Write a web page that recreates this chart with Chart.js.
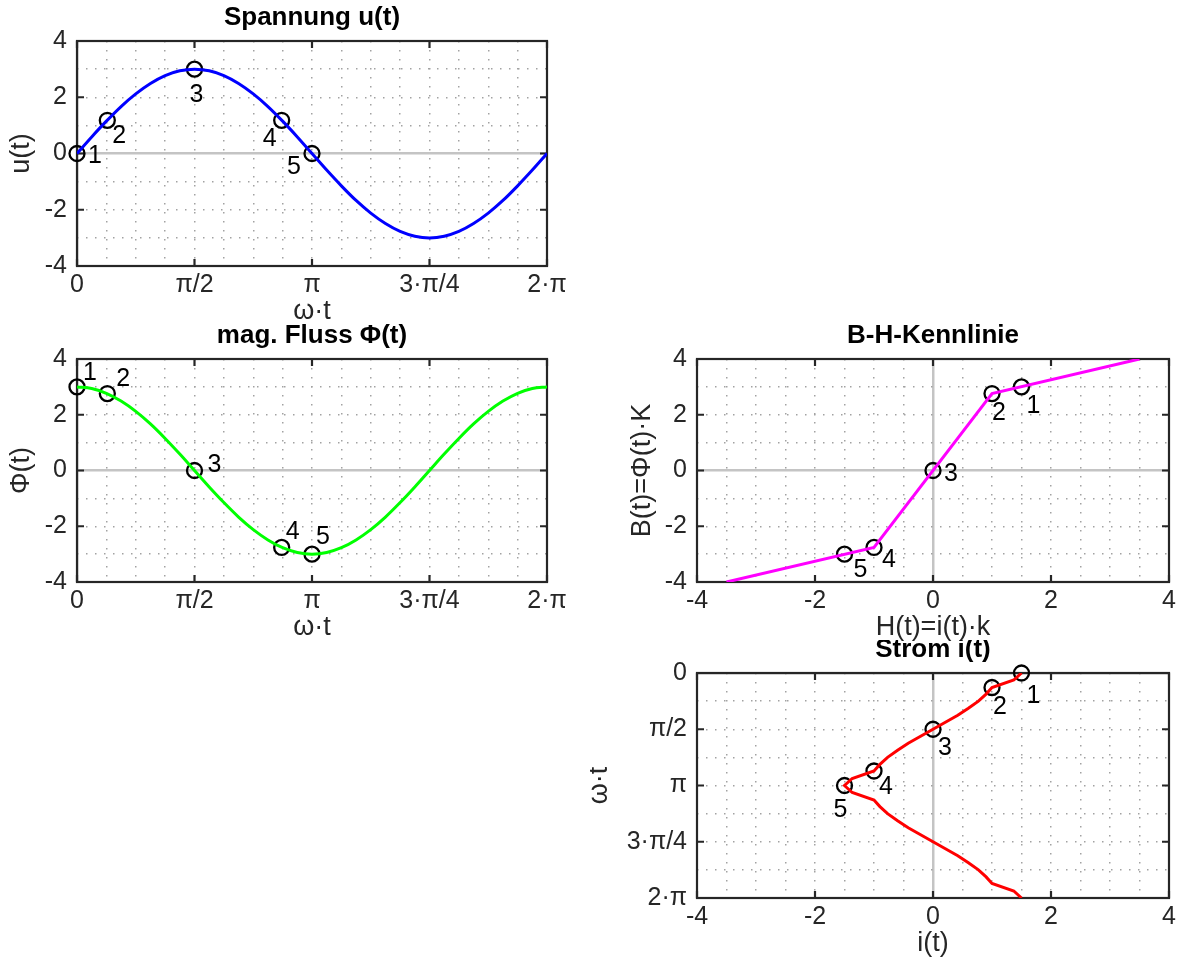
<!DOCTYPE html>
<html>
<head>
<meta charset="utf-8">
<script src="https://cdn.jsdelivr.net/npm/chart.js@4.4.1/dist/chart.umd.min.js"></script>
<style>
  html, body { margin: 0; padding: 0; background: #fff; }
  body { width: 1180px; height: 959px; position: relative; overflow: hidden; }
  canvas { position: absolute; }
</style>
</head>
<body>
<canvas id="uChart"></canvas>
<canvas id="phiChart"></canvas>
<canvas id="bhChart"></canvas>
<canvas id="iChart"></canvas>
<script>
const FONT = '"Liberation Sans", Arial, Helvetica, sans-serif';
const INK = '#262626';

// omega*t in Einheiten von pi
const phase = [0, 0.0625, 0.125, 0.1875, 0.25, 0.3125, 0.375, 0.4375, 0.5, 0.5625, 0.625, 0.6875, 0.75, 0.8125, 0.875, 0.9375,
  1, 1.0625, 1.125, 1.1875, 1.25, 1.3125, 1.375, 1.4375, 1.5, 1.5625, 1.625, 1.6875, 1.75, 1.8125, 1.875, 1.9375, 2];
const voltage = [0, 0.59, 1.15, 1.67, 2.12, 2.49, 2.77, 2.94, 3, 2.94, 2.77, 2.49, 2.12, 1.67, 1.15, 0.59,
  0, -0.59, -1.15, -1.67, -2.12, -2.49, -2.77, -2.94, -3, -2.94, -2.77, -2.49, -2.12, -1.67, -1.15, -0.59, 0];
const flux = [3, 2.94, 2.77, 2.49, 2.12, 1.67, 1.15, 0.59, 0, -0.59, -1.15, -1.67, -2.12, -2.49, -2.77, -2.94,
  -3, -2.94, -2.77, -2.49, -2.12, -1.67, -1.15, -0.59, 0, 0.59, 1.15, 1.67, 2.12, 2.49, 2.77, 2.94, 3];

// B-H-Kennlinie
const bhH = [-3.5, -1, 1, 3.5];
const bhB = [-4, -2.76, 2.76, 4];

// Strom i(t) ueber omega*t
const currentPhase = [0, 0.0625, 0.129, 0.1875, 0.25, 0.3125, 0.375, 0.4375, 0.5, 0.5625, 0.625, 0.6875, 0.75, 0.8125, 0.871, 0.9375,
  1, 1.0625, 1.129, 1.1875, 1.25, 1.3125, 1.375, 1.4375, 1.5, 1.5625, 1.625, 1.6875, 1.75, 1.8125, 1.871, 1.9375, 2];
const current = [1.5, 1.37, 1.0, 0.9, 0.77, 0.6, 0.42, 0.21, 0, -0.21, -0.42, -0.6, -0.77, -0.9, -1.0, -1.37,
  -1.5, -1.37, -1.0, -0.9, -0.77, -0.6, -0.42, -0.21, 0, 0.21, 0.42, 0.6, 0.77, 0.9, 1.0, 1.37, 1.5];

// markierte Punkte 1..5
const pointNames = ['1', '2', '3', '4', '5'];
const pointPhase = [0, 0.129, 0.5, 0.871, 1];
const pointVoltage = [0, 1.18, 3, 1.18, 0];
const pointFlux = [3, 2.76, 0, -2.76, -3];
const pointCurrent = [1.5, 1, 0, -1, -1.5];

// Achsenbeschriftung
const phaseTicks = [0, 0.5, 1, 1.5, 2];
const phaseLabels = ['0', 'π/2', 'π', '3·π/4', '2·π'];
const valueTicks = [-4, -2, 0, 2, 4];
const valueLabels = ['-4', '-2', '0', '2', '4'];

const xy = (xs, ys) => xs.map((x, i) => ({ x: x, y: ys[i] }));
const isZero = c => c.tick && Math.abs(c.tick.value) < 1e-9;

function gridTicks(min, max, step) {
  const out = [];
  for (let v = min; v <= max + 1e-9; v += step) out.push({ value: +v.toFixed(6) });
  return out;
}

function axis(min, max, step, major, labels, size, horizontal, extra) {
  return Object.assign({
    type: 'linear', min: min, max: max,
    afterBuildTicks: s => { s.ticks = gridTicks(min, max, step); },
    afterFit: s => { if (horizontal) s.height = size; else s.width = size; },
    ticks: {
      autoSkip: false, maxRotation: 0, color: INK, padding: horizontal ? 4 : 10,
      font: { family: FONT, size: 25 },
      callback: v => {
        const k = major.findIndex(m => Math.abs(m - v) < 1e-6);
        return k < 0 ? '' : labels[k];
      }
    },
    grid: {
      drawTicks: false,
      color: c => isZero(c) ? '#c4c4c4' : '#a2a2a2',
      lineWidth: c => isZero(c) ? 2.5 : 1.5
    },
    border: { display: false, dash: c => isZero(c) ? [] : [1.5, 7.5] }
  }, extra || {});
}

// Rahmen, Teilstriche, Titel, Achsentitel, Punktnummern
const frame = {
  id: 'frame',
  beforeDatasetsDraw(chart, args, o) {
    const { ctx, chartArea: a, scales } = chart;
    ctx.save();
    ctx.strokeStyle = INK;
    ctx.lineWidth = 2.2;
    ctx.strokeRect(a.left, a.top, a.right - a.left, a.bottom - a.top);
    const len = 7;
    ctx.beginPath();
    o.xMajor.forEach(v => {
      const px = scales.x.getPixelForValue(v);
      ctx.moveTo(px, a.bottom); ctx.lineTo(px, a.bottom - len);
      ctx.moveTo(px, a.top); ctx.lineTo(px, a.top + len);
    });
    o.yMajor.forEach(v => {
      const py = scales.y.getPixelForValue(v);
      ctx.moveTo(a.left, py); ctx.lineTo(a.left + len, py);
      ctx.moveTo(a.right, py); ctx.lineTo(a.right - len, py);
    });
    ctx.stroke();
    ctx.restore();
  },
  afterDraw(chart, args, o) {
    const { ctx, chartArea: a } = chart;
    const cx = (a.left + a.right) / 2, cy = (a.top + a.bottom) / 2;
    ctx.save();
    ctx.textAlign = 'center';
    ctx.textBaseline = 'middle';
    ctx.fillStyle = '#000';
    ctx.font = 'bold 26px ' + FONT;
    ctx.fillText(o.title, cx, a.top - 23);
    ctx.fillStyle = INK;
    ctx.font = '27px ' + FONT;
    ctx.fillText(o.xLabel, cx, a.bottom + 46);
    ctx.save();
    ctx.translate(a.left - o.yLabelGap, cy);
    ctx.rotate(-Math.PI / 2);
    ctx.fillText(o.yLabel, 0, 0);
    ctx.restore();
    ctx.fillStyle = '#000';
    ctx.font = '25px ' + FONT;
    const pts = chart.getDatasetMeta(1).data;
    pointNames.forEach((n, i) => {
      ctx.fillText(n, pts[i].x + o.nameOffsets[i][0], pts[i].y + o.nameOffsets[i][1]);
    });
    ctx.restore();
  }
};

function place(id, box, area) {
  const el = document.getElementById(id);
  el.width = box[2]; el.height = box[3];
  el.style.left = box[0] + 'px'; el.style.top = box[1] + 'px';
  return {
    ctx: el.getContext('2d'),
    padding: { left: 0, top: area[1] - box[1], right: box[0] + box[2] - area[2], bottom: 0 },
    yWidth: area[0] - box[0],
    xHeight: box[1] + box[3] - area[3]
  };
}

function makeChart(id, box, area, curve, color, marks, sx, sy, extra) {
  const p = place(id, box, area);
  return new Chart(p.ctx, {
    type: 'scatter',
    data: {
      datasets: [{
        data: curve, showLine: true, borderColor: color, borderWidth: 3,
        pointRadius: 0, fill: false,
        cubicInterpolationMode: extra.monotone ? 'monotone' : 'default', tension: 0
      }, {
        data: marks, showLine: false, pointRadius: 7.5, pointBorderWidth: 2.3,
        pointBorderColor: '#000', pointBackgroundColor: 'rgba(0,0,0,0)', clip: false
      }]
    },
    options: {
      responsive: false, animation: false, devicePixelRatio: 1, events: [],
      layout: { padding: p.padding },
      scales: {
        x: axis(sx[0], sx[1], sx[2], sx[3], sx[4], p.xHeight, true),
        y: axis(sy[0], sy[1], sy[2], sy[3], sy[4], p.yWidth, false, sy[5])
      },
      plugins: {
        legend: { display: false }, tooltip: { enabled: false },
        frame: extra.frame
      }
    },
    plugins: [frame]
  });
}

makeChart('uChart', [0, 0, 590, 330], [77, 41, 547, 266],
  xy(phase, voltage), '#0000ff', xy(pointPhase, pointVoltage),
  [0, 2, 0.125, phaseTicks, phaseLabels], [-4, 4, 1, valueTicks, valueLabels],
  { monotone: true, frame: {
    title: 'Spannung u(t)', xLabel: 'ω·t', yLabel: 'u(t)', yLabelGap: 55,
    xMajor: phaseTicks, yMajor: valueTicks,
    nameOffsets: [[18, 3], [12, 16], [2, 26], [-12, 19], [-18, 14]] } });

makeChart('phiChart', [0, 320, 590, 330], [77, 359, 547, 582],
  xy(phase, flux), '#00ff00', xy(pointPhase, pointFlux),
  [0, 2, 0.125, phaseTicks, phaseLabels], [-4, 4, 1, valueTicks, valueLabels],
  { monotone: true, frame: {
    title: 'mag. Fluss Φ(t)', xLabel: 'ω·t', yLabel: 'Φ(t)', yLabelGap: 55,
    xMajor: phaseTicks, yMajor: valueTicks,
    nameOffsets: [[13, -14], [16, -14], [20, -5], [11, -15], [11, -17]] } });

makeChart('bhChart', [590, 320, 590, 330], [697, 359, 1169, 582],
  xy(bhH, bhB), '#ff00ff', xy(pointCurrent, pointFlux),
  [-4, 4, 0.5, valueTicks, valueLabels], [-4, 4, 1, valueTicks, valueLabels],
  { monotone: false, frame: {
    title: 'B-H-Kennlinie', xLabel: 'H(t)=i(t)·k', yLabel: 'B(t)=Φ(t)·K', yLabelGap: 54,
    xMajor: valueTicks, yMajor: valueTicks,
    nameOffsets: [[12, 19], [7, 20], [18, 4], [15, 13], [16, 16]] } });

makeChart('iChart', [590, 640, 590, 319], [697, 673, 1169, 898],
  xy(current, currentPhase), '#ff0000', xy(pointCurrent, pointPhase),
  [-4, 4, 0.5, valueTicks, valueLabels], [0, 2, 0.25, phaseTicks, phaseLabels, { reverse: true }],
  { monotone: false, frame: {
    title: 'Strom i(t)', xLabel: 'i(t)', yLabel: 'ω·t', yLabelGap: 97,
    xMajor: valueTicks, yMajor: phaseTicks,
    nameOffsets: [[12, 23], [8, 20], [12, 19], [12, 16], [-4, 25]] } });
</script>
</body>
</html>
